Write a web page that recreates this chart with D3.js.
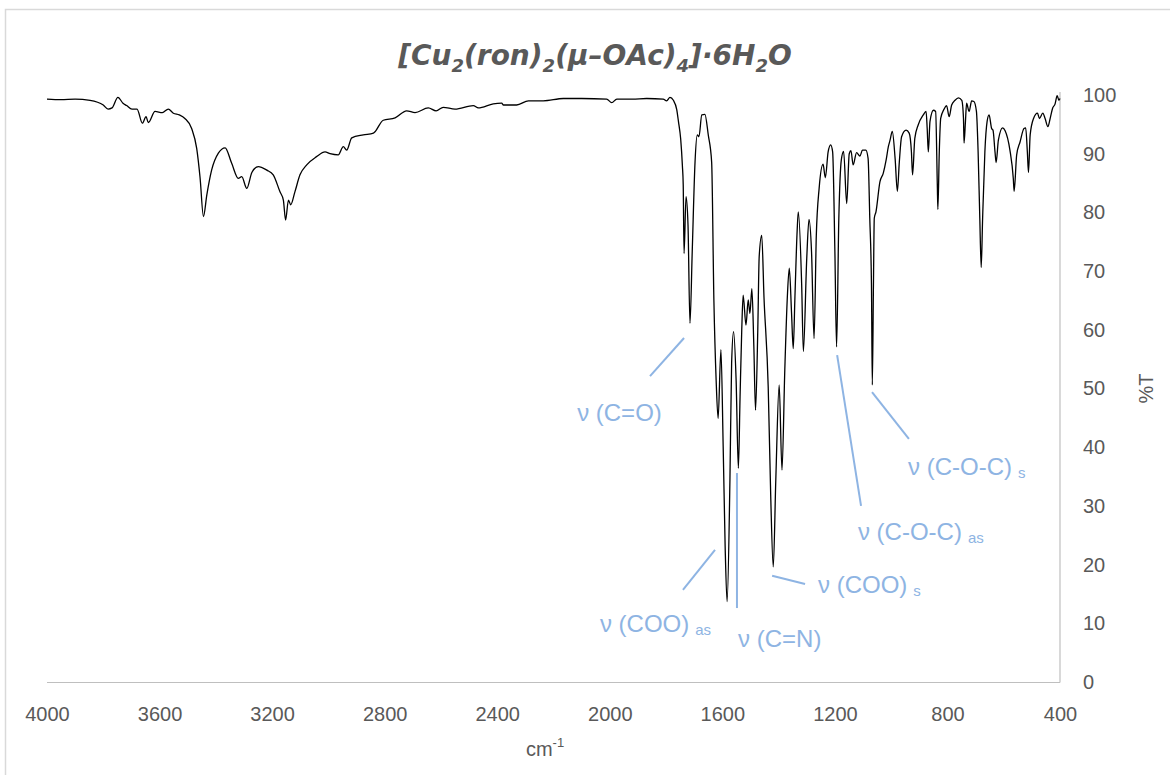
<!DOCTYPE html>
<html><head><meta charset="utf-8">
<script src="https://cdn.jsdelivr.net/npm/d3@7"></script>
<style>body{margin:0;background:#fff}</style>
</head><body><svg id="c" width="1170" height="775"></svg>
<script>
const wavenumbers = [4000,3950,3900,3847,3800,3783,3769,3748,3730,3717,3698,3680,3661,3648,3640,3616,3590,3569,3551,3530,3510,3486,3468,3456,3444,3432,3415,3391,3367,3344,3320,3308,3290,3272,3249,3219,3196,3172,3160,3152,3142,3134,3119,3101,3077,3042,3012,2994,2965,2947,2935,2917,2876,2840,2805,2763,2722,2692,2645,2617,2592,2550,2485,2467,2414,2384,2378,2331,2289,2236,2165,2100,2011,1993,1975,1920,1869,1810,1798,1786,1774,1762,1756,1748,1742,1739,1736,1729,1722,1715,1707,1697,1689,1683,1673,1662,1650,1638,1630,1622,1615,1605,1597,1590,1583,1573,1567,1560,1551,1543,1537,1531,1526,1516,1508,1502,1495,1488,1482,1474,1469,1460,1452,1437,1428,1419,1410,1398,1388,1378,1369,1362,1354,1348,1342,1334,1330,1318,1312,1300,1292,1283,1274,1266,1256,1242,1234,1224,1215,1208,1200,1194,1186,1177,1169,1158,1149,1143,1135,1123,1111,1102,1090,1082,1076,1070,1067,1063,1060,1054,1040,1028,1018,1010,1004,996,986,978,971,963,947,936,928,924,916,904,886,876,872,868,862,850,842,836,834,829,824,812,803,794,785,773,761,749,743,741,736,732,723,714,706,697,691,685,680,675,667,659,652,643,638,631,627,619,604,595,578,566,563,554,542,528,522,516,512,506,494,480,473,461,453,443,435,426,418,410,404,400];
const transmittance = [99.3,99.2,99.3,99.1,98.3,97.6,97.8,99.6,98.6,98.2,97.6,97.6,95.2,96.3,95.3,97.2,97.0,97.6,96.9,96.6,96.0,94.3,90.9,85.9,79.3,83.0,87.2,90.1,91.0,88.4,85.8,86.1,84.1,86.8,87.8,87.2,86.4,83.5,82.1,78.7,82.1,81.3,83.5,86.4,88.1,89.5,90.3,90.0,89.8,91.2,90.6,92.7,93.2,93.5,95.7,96.1,97.3,97.0,97.8,97.3,97.9,97.6,98.2,97.8,98.5,98.6,98.3,98.3,99.0,99.0,99.4,99.4,99.3,98.7,99.3,99.3,99.4,99.3,99.0,99.6,99.1,97.5,95.5,92.5,88.0,84.7,73.0,82.7,77.9,61.1,73.3,88.6,93.2,92.9,96.6,96.7,93.2,88.6,65.0,51.4,44.9,56.6,40.1,23.1,13.7,34.4,54.3,59.7,51.4,36.4,48.6,60.0,65.9,60.8,65.1,62.8,67.0,57.1,46.3,60.0,72.5,76.1,65.6,50.3,31.6,19.6,34.4,50.6,36.1,53.2,65.6,70.5,62.8,56.8,65.6,77.0,80.1,67.6,56.3,72.2,78.8,73.3,58.5,76.1,84.1,88.2,85.9,90.3,91.5,90.3,73.3,57.1,79.0,89.0,90.4,81.5,90.0,90.5,88.1,90.2,89.6,90.6,90.6,89.2,79.0,67.6,50.6,67.6,79.0,80.1,85.2,86.7,88.9,91.2,92.3,93.8,89.2,83.6,88.6,92.9,94.0,93.5,90.3,86.4,92.6,94.9,96.6,97.2,94.3,90.3,95.5,97.4,97.2,84.7,80.5,90.3,96.0,97.6,98.2,96.3,98.3,99.1,99.5,99.1,96.0,91.8,95.5,98.6,97.2,99.0,98.9,97.2,90.3,79.0,70.6,79.0,90.3,95.5,96.6,94.3,94.0,90.3,88.5,92.3,94.4,93.9,90.6,85.8,83.6,89.8,92.0,94.3,94.4,90.3,86.8,93.2,96.0,96.9,96.0,96.9,96.0,94.6,96.0,97.8,98.4,99.9,99.1,99.4];
const xTicks = [4000,3600,3200,2800,2400,2000,1600,1200,800,400];
const yTicks = [0,10,20,30,40,50,60,70,80,90,100];
const annLabels = ["ν (C=O)","ν (COO)","ν (C=N)","ν (COO)","ν (C-O-C)","ν (C-O-C)"];
const annSubs = ["","as","","s","as","s"];
// annotation leader lines: [wavenumber1, %T1, wavenumber2, %T2]
const annLines = [[1857,52.1,1736,58.6],[1740,15.7,1626,22.5],[1548,35.6,1548,12.6],[1423,18.1,1306,16.7],[1192,55.7,1107,30.0],[1068,49.4,937,41.4]];
// annotation label anchor (start): [wavenumber, %T baseline]
const annPos = [[2116,44.5],[2035,8.6],[1544,6.0],[1260,15.2],[1118,24.2],[940,35.3]];

const svg = d3.select("#c");
const x = d3.scaleLinear().domain([4000,400]).range([47,1060]);
const y = d3.scaleLinear().domain([0,100]).range([682,95]);
const gray = "#595959";
const blue = "#8EB4E3";

svg.append("rect").attr("x",5.5).attr("y",9.5).attr("width",1200).attr("height",800)
  .attr("fill","none").attr("stroke","#d9d9d9").attr("stroke-width",1.5);

// axes lines
svg.append("line").attr("x1",x(4000)).attr("x2",x(400)).attr("y1",y(0)+0.5).attr("y2",y(0)+0.5)
  .attr("stroke","#bfbfbf").attr("stroke-width",1.2);
svg.append("line").attr("x1",x(400)).attr("x2",x(400)).attr("y1",y(100)-3).attr("y2",y(0)+0.5)
  .attr("stroke","#bfbfbf").attr("stroke-width",1.2);

const xAxis = svg.append("g").attr("transform",`translate(0,${y(0)+25})`)
  .call(d3.axisBottom(x).tickValues(xTicks).tickSize(0).tickFormat(d3.format("d")));
xAxis.select(".domain").remove();
xAxis.selectAll("text").attr("fill",gray).attr("font-family","Liberation Sans, Arial, sans-serif").attr("font-size",20).attr("dy","0.71em").attr("y",0);

const yAxis = svg.append("g").attr("transform",`translate(${x(400)+23},0)`)
  .call(d3.axisRight(y).tickValues(yTicks).tickSize(0));
yAxis.select(".domain").remove();
yAxis.selectAll("text").attr("fill",gray).attr("font-family","Liberation Sans, Arial, sans-serif").attr("font-size",20).attr("x",0);

// spectrum
const pts = wavenumbers.map((w,i)=>[w,transmittance[i]]);
svg.append("path").datum(pts)
  .attr("d", d3.line().x(d=>x(d[0])).y(d=>y(d[1])).curve(d3.curveMonotoneX))
  .attr("fill","none").attr("stroke","#000").attr("stroke-width",1.3).attr("stroke-linejoin","round");

// annotations
annLines.forEach(a=>{
  svg.append("line").attr("x1",x(a[0])).attr("y1",y(a[1])).attr("x2",x(a[2])).attr("y2",y(a[3]))
    .attr("stroke",blue).attr("stroke-width",2);
});
annLabels.forEach((t,i)=>{
  const tx = svg.append("text").attr("x",x(annPos[i][0])).attr("y",y(annPos[i][1]))
    .attr("fill",blue).attr("font-family","Liberation Sans, Arial, sans-serif").attr("font-size",24).text(t);
  if(annSubs[i]){
    tx.append("tspan").attr("dx",6).attr("dy",3).attr("font-size",15).text(annSubs[i]);
  }
});

// title
const title = svg.append("text").attr("x",595).attr("y",65).attr("text-anchor","middle")
  .attr("fill",gray).attr("font-family","DejaVu Sans, sans-serif").attr("font-weight","bold")
  .attr("font-style","italic").attr("font-size",28);
const parts = [["[Cu",0],["2",1],["(ron)",0],["2",1],["(μ–OAc)",0],["4",1],["]·6H",0],["2",1],["O",0]];
let prevSub = false;
parts.forEach(p=>{
  const ts = title.append("tspan").text(p[0]);
  if(p[1]){ ts.attr("font-size",18).attr("dy",prevSub?0:7); prevSub=true; }
  else { if(prevSub) ts.attr("dy",-7); prevSub=false; }
});

// axis titles
svg.append("text").attr("transform",`translate(1153,${y(50)}) rotate(-90)`).attr("text-anchor","middle")
  .attr("fill",gray).attr("font-family","Liberation Sans, Arial, sans-serif").attr("font-size",20).text("%T");
const xt = svg.append("text").attr("x",545).attr("y",756).attr("text-anchor","middle")
  .attr("fill",gray).attr("font-family","Liberation Sans, Arial, sans-serif").attr("font-size",20).text("cm");
xt.append("tspan").attr("font-size",13).attr("dy",-9).text("-1");
</script></body></html>
